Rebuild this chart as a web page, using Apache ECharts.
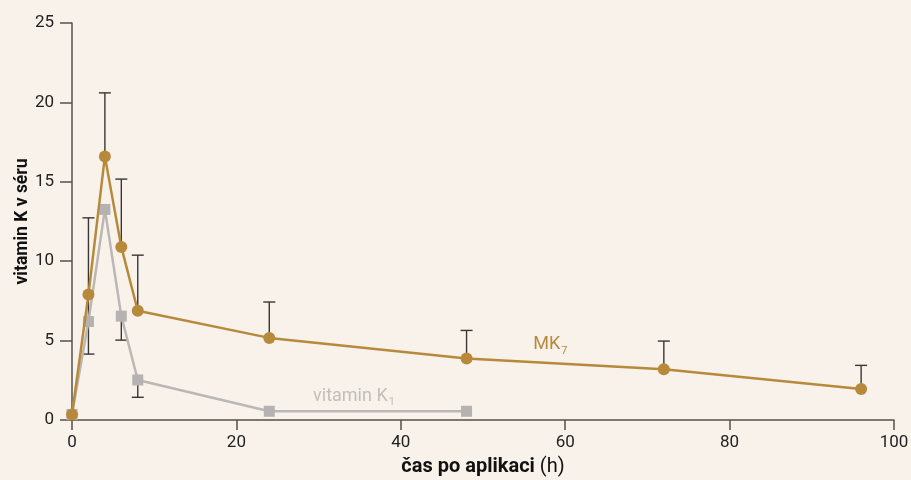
<!DOCTYPE html>
<html><head><meta charset="utf-8">
<script src="https://cdn.jsdelivr.net/npm/echarts@6/dist/echarts.min.js"></script>
<style>html,body{margin:0;padding:0;background:#f8f2eb;}#c{width:911px;height:480px;}</style>
</head><body><div id="c"></div>
<script>
// data
const mkHours = [0, 2, 4, 6, 8, 24, 48, 72, 96];
const mkValues = [0.35, 7.9, 16.6, 10.9, 6.88, 5.17, 3.88, 3.19, 1.95];
const mkErrLow = [null, 7.9, 16.6, 10.9, 6.88, 5.17, 3.88, 3.19, 1.95];
const mkErrHigh = [null, 12.73, 20.6, 15.17, 10.38, 7.43, 5.64, 4.97, 3.44];
const k1Hours = [0, 2, 4, 6, 8, 24, 48];
const k1Values = [0.35, 6.2, 13.26, 6.54, 2.52, 0.55, 0.55];
const k1ErrLow = [null, 4.15, null, 5.03, 1.43, null, null];
const k1ErrHigh = [null, 7.9, null, 6.54, 2.52, null, null];
const xTicks = [0, 20, 40, 60, 80, 100];
const yTicks = [0, 5, 10, 15, 20, 25];
const mkLabelAt = [58.2, 4.75];
const k1LabelAt = [34.3, 1.5];

const gold = '#b7893b';
const grey = '#bab7b5';
const font = 'Roboto';

function errData(xs, lo, hi) {
  const out = [];
  xs.forEach((x, i) => { if (lo[i] != null) out.push([x, lo[i], hi[i]]); });
  return out;
}
function errRender(capTop) {
  return function (params, api) {
    const p1 = api.coord([api.value(0), api.value(1)]);
    const p2 = api.coord([api.value(0), api.value(2)]);
    const capY = capTop ? p2[1] : p1[1];
    const hw = 6;
    const style = { stroke: '#3a3633', lineWidth: 1.4 };
    return { type: 'group', children: [
      { type: 'line', shape: { x1: p1[0], y1: p1[1], x2: p2[0], y2: p2[1] }, style },
      { type: 'line', shape: { x1: p1[0] - hw, y1: capY, x2: p1[0] + hw, y2: capY }, style }
    ]};
  };
}

const chart = echarts.init(document.getElementById('c'), null, { renderer: 'canvas' });
chart.setOption({
  backgroundColor: '#f8f2eb',
  animation: false,
  textStyle: { fontFamily: font },
  grid: { left: 72, right: 17, top: 23, bottom: 60, containLabel: false, outerBoundsMode: 'none' },
  xAxis: {
    type: 'value', min: xTicks[0], max: xTicks[xTicks.length - 1], interval: 20,
    splitLine: { show: false },
    axisLine: { lineStyle: { color: '#55504c', width: 1.5 } },
    axisTick: { show: true, length: 10, lineStyle: { color: '#55504c', width: 1.5 } },
    axisLabel: { color: '#222', fontSize: 17, margin: 14, fontFamily: font },
    name: '{b|čas po aplikaci}{n| (h)}',
    nameLocation: 'middle', nameGap: 37, nameMoveOverlap: false,
    nameTextStyle: { rich: {
      b: { fontSize: 20, fontWeight: 'bold', color: '#111', fontFamily: font },
      n: { fontSize: 20, color: '#111', fontFamily: font }
    } }
  },
  yAxis: {
    type: 'value', min: yTicks[0], max: yTicks[yTicks.length - 1], interval: 5,
    splitLine: { show: false },
    axisLine: { show: true, lineStyle: { color: '#55504c', width: 1.5 } },
    axisTick: { show: true, length: 12, lineStyle: { color: '#55504c', width: 1.5 } },
    axisLabel: { color: '#222', fontSize: 17, margin: 18, fontFamily: font },
    name: 'vitamin K v séru',
    nameLocation: 'middle', nameGap: 40, nameRotate: 90, nameMoveOverlap: false,
    nameTextStyle: { fontSize: 17.5, fontWeight: 'bold', color: '#111', fontFamily: font }
  },
  series: [
    { type: 'custom', z: 1, renderItem: errRender(false), data: errData(k1Hours, k1ErrLow, k1ErrHigh), encode: { x: 0, y: [1, 2] } },
    { type: 'custom', z: 1, renderItem: errRender(true), data: errData(mkHours, mkErrLow, mkErrHigh), encode: { x: 0, y: [1, 2] } },
    {
      type: 'line', z: 3, name: 'vitamin K1',
      data: k1Hours.map((x, i) => [x, k1Values[i]]),
      symbol: 'rect', symbolSize: 11,
      itemStyle: { color: '#b5b2b1' },
      lineStyle: { color: grey, width: 2.5 },
      markPoint: {
        symbol: 'circle', symbolSize: 1, itemStyle: { color: 'rgba(0,0,0,0)' },
        silent: true,
        data: [{ coord: k1LabelAt }],
        label: { show: true, position: 'inside', formatter: '{a|vitamin K}{s|1}',
          rich: { a: { fontSize: 18, color: '#c2beba', fontFamily: font }, s: { fontSize: 11, color: '#c2beba', fontFamily: font, padding: [13, 0, 0, 1] } } }
      }
    },
    {
      type: 'line', z: 4, name: 'MK7',
      data: mkHours.map((x, i) => [x, mkValues[i]]),
      symbol: 'circle', symbolSize: 12,
      itemStyle: { color: gold },
      lineStyle: { color: gold, width: 2.5 },
      markPoint: {
        symbol: 'circle', symbolSize: 1, itemStyle: { color: 'rgba(0,0,0,0)' },
        silent: true,
        data: [{ coord: mkLabelAt }],
        label: { show: true, position: 'inside', formatter: '{a|MK}{s|7}',
          rich: { a: { fontSize: 18, color: gold, fontFamily: font }, s: { fontSize: 11, color: gold, fontFamily: font, padding: [13, 0, 0, 1] } } }
      }
    }
  ]
});
</script>
</body></html>
